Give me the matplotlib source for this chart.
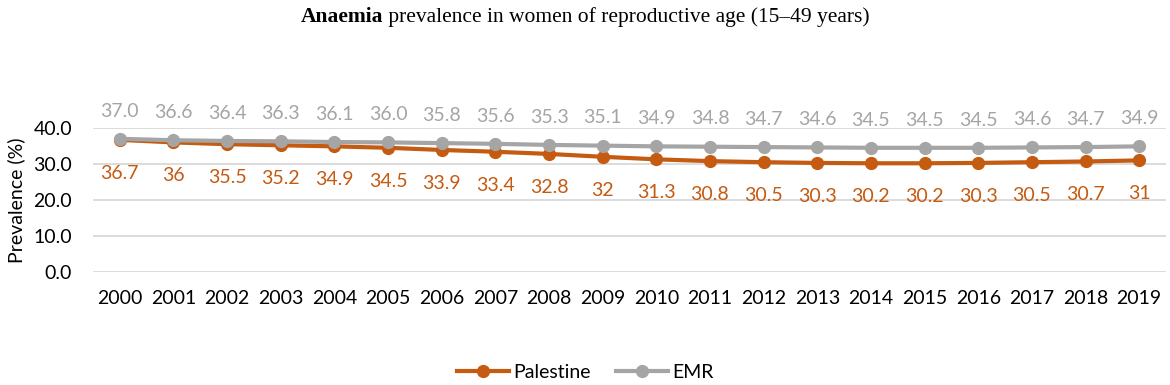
import matplotlib.pyplot as plt

years = [str(y) for y in range(2000, 2020)]
palestine = [36.7, 36, 35.5, 35.2, 34.9, 34.5, 33.9, 33.4, 32.8, 32,
             31.3, 30.8, 30.5, 30.3, 30.2, 30.2, 30.3, 30.5, 30.7, 31]
emr = [37.0, 36.6, 36.4, 36.3, 36.1, 36.0, 35.8, 35.6, 35.3, 35.1,
       34.9, 34.8, 34.7, 34.6, 34.5, 34.5, 34.5, 34.6, 34.7, 34.9]
pal_labels = ["36.7", "36", "35.5", "35.2", "34.9", "34.5", "33.9", "33.4", "32.8", "32",
              "31.3", "30.8", "30.5", "30.3", "30.2", "30.2", "30.3", "30.5", "30.7", "31"]

orange = "#C55A11"
grey = "#A5A5A5"
sans = ["Lato", "DejaVu Sans"]
plt.rcParams['font.family'] = sans

fig = plt.figure(figsize=(11.7, 3.85), dpi=100)
ax = fig.add_axes([93 / 1170, 1 - 272 / 385, (1166 - 93) / 1170, (272 - 128) / 385])

x = list(range(len(years)))
ax.plot(x, palestine, color=orange, lw=3, marker="o", ms=8.5, label="Palestine", zorder=3)
ax.plot(x, emr, color=grey, lw=3, marker="o", ms=8.5, label="EMR", zorder=4)

for i in x:
    ax.annotate(f"{emr[i]:.1f}", (i, emr[i]), xytext=(0, 20), textcoords="offset points",
                ha="center", va="center", color=grey, fontsize=14)
    ax.annotate(pal_labels[i], (i, palestine[i]), xytext=(0, -24), textcoords="offset points",
                ha="center", va="center", color=orange, fontsize=14)

ax.set_xlim(-0.5, len(years) - 0.5)
ax.set_ylim(0, 40)
ax.set_yticks([0, 10, 20, 30, 40])
ax.set_yticklabels([f"{v:.1f}" for v in [0, 10, 20, 30, 40]])
ax.set_xticks(x)
ax.set_xticklabels(years)
ax.tick_params(length=0, labelsize=14, colors="#000000")
ax.tick_params(axis="x", pad=13)
ax.tick_params(axis="y", pad=15)
ax.grid(axis="y", color="#D9D9D9", lw=1.3)
ax.set_axisbelow(True)
for s in ax.spines.values():
    s.set_visible(False)
ax.set_ylabel("Prevalence (%)", fontsize=14, labelpad=6)

fig.legend(loc="center", bbox_to_anchor=(0.5, 1 - 372 / 385), ncol=2, frameon=False,
           fontsize=14, handlelength=2.7, columnspacing=1.3, handletextpad=0.2)

# title: bold first word, rest regular
serif = ["Liberation Serif", "DejaVu Serif"]
r = fig.canvas.get_renderer()
t1 = fig.text(0, 0, "Anaemia", fontsize=15.5, fontweight="bold", family=serif)
t2 = fig.text(0, 0, " prevalence in women of reproductive age (15\u201349 years)", fontsize=15.5, family=serif)
w1 = t1.get_window_extent(r).width
w2 = t2.get_window_extent(r).width
x0 = (1170 - w1 - w2) / 2
yt = 1 - 17 / 385
t1.set_position((x0 / 1170, yt))
t2.set_position(((x0 + w1) / 1170, yt))
t1.set_va("center")
t2.set_va("center")

plt.savefig("out.png", dpi=100)
